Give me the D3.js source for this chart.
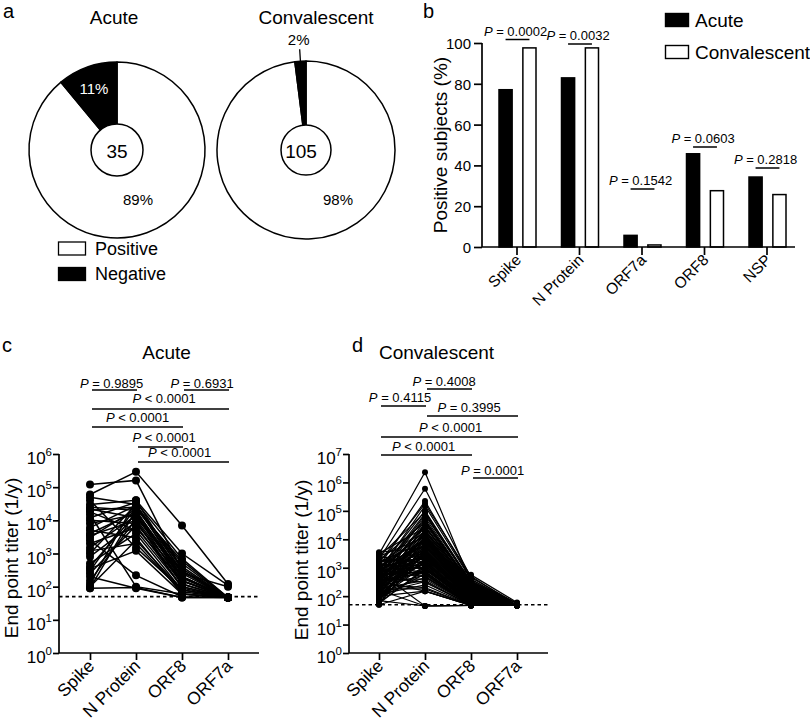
<!DOCTYPE html>
<html><head><meta charset="utf-8">
<script src="https://cdn.jsdelivr.net/npm/d3@7"></script>
<style>
body{margin:0;background:#fff}
svg{display:block;font-family:"Liberation Sans",Arial,Helvetica,sans-serif}
text{white-space:pre}
</style></head><body>
<svg id="chart" width="810" height="723"></svg>
<script>
// ================= DATA =================
// Panel a
const pieGroups = ["Acute", "Convalescent"];
const pieN = [35, 105];
const piePositive = [89, 98];
const pieNegative = [11, 2];
const pieLegend = ["Positive", "Negative"];

// Panel b
const barCategories = ["Spike", "N Protein", "ORF7a", "ORF8", "NSP"];
const barSeries = ["Acute", "Convalescent"];
const barAcute = [77.1, 82.9, 5.7, 45.7, 34.3];
const barConv = [97.6, 97.6, 1.0, 27.6, 25.7];
const barPValues = ["= 0.0002", "= 0.0032", "= 0.1542", "= 0.0603", "= 0.2818"];
const barYTicks = [0, 20, 40, 60, 80, 100];

// Panels c, d
const titerCategories = ["Spike", "N Protein", "ORF8", "ORF7a"];
const detectionLimit = 50;

const acuteSpike = [120000,60000,50000,40000,30000,25000,22000,20000,18000,15000,12000,10000,8000,6000,5000,4000,3500,3000,2500,2000,1500,1200,1000,800,500,400,350,300,250,200,150,120,100,90,90];
const acuteNP = [160000,290000,30000,1500,40000,20000,12000,25000,5000,100,35000,8000,15000,28000,3000,18000,10000,22000,220,6000,14000,2000,30000,9000,4000,16000,1200,25000,7000,90,11000,40000,2500,95,20000];
const acuteORF8 = [300,7000,200,80,1000,150,300,500,100,60,700,200,120,400,60,250,90,600,50,150,200,70,350,120,80,180,60,300,100,47,150,250,80,47,200];
const acuteORF7a = [47,120,47,47,110,47,47,47,47,47,47,47,47,47,47,47,47,47,47,47,47,47,47,47,47,47,47,47,47,47,47,100,47,47,47];

const convSpike = [
 3500,3000,2800,2500,2200,2000,1900,1800,1700,1600,1500,1400,1300,1250,1200,
 1150,1100,1050,1000,950,900,880,850,820,800,780,750,720,700,680,
 650,630,600,580,560,540,520,500,480,460,450,440,420,400,390,
 380,370,360,350,340,330,320,310,300,290,280,270,260,250,240,
 230,220,210,200,195,190,180,170,165,160,150,145,140,130,125,
 120,115,110,105,100,95,90,85,80,75,70,65,60,55,50,
 50,1600,900,450,260,130,70,2400,1100,600,350,180,95,55,3200];
const convNP = [
 5000,2300000,800,12000,3000,600000,1500,40000,2000,8000,180000,900,25000,4000,1200,
 220000,6000,700,15000,2500,100000,1000,50000,3500,600,9000,150000,1800,20000,45,
 80000,2200,500,30000,7000,1100,70000,4500,300,10000,1600,60000,2800,400,18000,
 1300,35000,650,5500,150,14000,2400,900,45000,3200,750,11000,200,6500,1900,
 28000,550,4200,1400,16000,350,7500,2600,45,13000,1000,3800,22000,450,5200,
 1700,250,9500,3000,150,40000,1200,600,6000,2100,45,12000,850,3600,150,
 19000,2700,480,8500,1500,320,4800,90000,2300,700,11000,180,3300,950,26000];
const convORF8 = [
 560,300,120,200,80,450,60,250,100,150,500,70,350,90,50,
 400,110,55,180,75,300,60,220,95,50,140,380,65,260,47,
 280,85,50,190,130,60,320,105,50,160,70,240,90,50,210,
 65,230,50,120,47,170,80,55,270,100,50,150,47,125,75,
 200,50,110,60,180,47,135,85,47,160,55,100,210,50,115,
 70,47,145,90,47,260,60,50,125,80,47,155,55,95,47,
 190,85,50,140,65,47,110,330,80,50,165,47,100,55,230];
const convORF7a = [
 60,47,47,47,47,55,47,47,47,47,47,47,47,47,47,
 47,47,47,47,47,47,47,47,47,47,47,55,47,47,47,
 47,47,47,47,47,47,47,47,47,47,47,47,47,47,47,
 47,47,47,47,47,47,47,47,47,47,47,47,47,47,47,
 47,47,47,47,47,47,47,47,47,47,47,47,47,47,47,
 47,47,47,47,47,47,47,47,47,47,47,47,47,47,47,
 47,47,47,47,47,47,47,55,47,47,47,47,47,47,47];

// statistical comparisons (from, to, label)
const acuteCompFrom = ["Spike","ORF8","Spike","Spike","N Protein","N Protein"];
const acuteCompTo   = ["N Protein","ORF7a","ORF7a","ORF8","ORF8","ORF7a"];
const acuteCompP    = ["= 0.9895","= 0.6931","< 0.0001","< 0.0001","< 0.0001","< 0.0001"];
const convCompFrom = ["N Protein","Spike","N Protein","Spike","Spike","ORF8"];
const convCompTo   = ["ORF8","N Protein","ORF7a","ORF7a","ORF8","ORF7a"];
const convCompP    = ["= 0.4008","= 0.4115","= 0.3995","< 0.0001","< 0.0001","= 0.0001"];

// ================= LAYOUT =================
const svg = d3.select("#chart");
const BLACK = "#000";

function pText(sel, label) {
  sel.append("tspan").attr("font-style", "italic").text("P");
  sel.append("tspan").text(" " + label);
}

// panel letters
[["a", 3, 18], ["b", 423, 18], ["c", 2, 352], ["d", 352, 352]].forEach(([t, x, y]) =>
  svg.append("text").attr("x", x).attr("y", y).attr("font-size", 20).text(t));

// ---------- Panel a ----------
const pieLayout = [
  {cx: 117, cy: 150, r: 88, rIn: 26, titleX: 114, nX: 117,
   negLbl: {dx: -23, dy: -56, fill: "#fff"}, posLbl: {dx: 21, dy: 55}},
  {cx: 306, cy: 150, r: 89, rIn: 25, titleX: 316, nX: 301,
   negLbl: null, posLbl: {dx: 32, dy: 55}}
];
const pie = d3.pie().sort(null).value(d => d.v);
pieGroups.forEach((grp, i) => {
  const L = pieLayout[i];
  svg.append("text").attr("x", L.titleX).attr("y", 24).attr("text-anchor", "middle")
    .attr("font-size", 19).text(grp);
  const g = svg.append("g").attr("transform", `translate(${L.cx},${L.cy})`);
  const arcs = pie([{k: "Positive", v: piePositive[i]}, {k: "Negative", v: pieNegative[i]}]);
  const arc = d3.arc().innerRadius(0).outerRadius(L.r);
  g.selectAll("path").data(arcs).join("path").attr("d", arc)
    .attr("fill", d => d.data.k === "Positive" ? "#fff" : BLACK)
    .attr("stroke", BLACK).attr("stroke-width", 1.5).attr("stroke-linejoin", "round");
  g.append("circle").attr("r", L.rIn).attr("fill", "#fff").attr("stroke", BLACK).attr("stroke-width", 1.5);
  g.append("text").attr("x", L.nX - L.cx).attr("y", 8).attr("text-anchor", "middle")
    .attr("font-size", 19).text(pieN[i]);
  g.append("text").attr("x", L.posLbl.dx).attr("y", L.posLbl.dy).attr("text-anchor", "middle")
    .attr("font-size", 15).text(piePositive[i] + "%");
  if (L.negLbl) {
    g.append("text").attr("x", L.negLbl.dx).attr("y", L.negLbl.dy).attr("text-anchor", "middle")
      .attr("font-size", 15).attr("fill", L.negLbl.fill).text(pieNegative[i] + "%");
  } else {
    const a = (arcs[1].startAngle + arcs[1].endAngle) / 2;
    const p1 = [Math.sin(a) * (L.r - 2), -Math.cos(a) * (L.r - 2)];
    const p2 = [Math.sin(a) * (L.r + 12), -Math.cos(a) * (L.r + 12)];
    g.append("line").attr("x1", p1[0]).attr("y1", p1[1]).attr("x2", p2[0]).attr("y2", p2[1])
      .attr("stroke", BLACK).attr("stroke-width", 1.3);
    g.append("text").attr("x", p2[0] - 1).attr("y", p2[1] - 4).attr("text-anchor", "middle")
      .attr("font-size", 15).text(pieNegative[i] + "%");
  }
});
pieLegend.forEach((lab, i) => {
  svg.append("rect").attr("x", 58.5).attr("y", 242 + i * 25.5).attr("width", 27).attr("height", 13)
    .attr("fill", i === 0 ? "#fff" : BLACK).attr("stroke", BLACK).attr("stroke-width", 1.3);
  svg.append("text").attr("x", 95).attr("y", 255 + i * 24.5).attr("font-size", 18).text(lab);
});

// ---------- Panel b ----------
{
  const axX = 482, axEnd = 795, yB0 = 247, yB100 = 43;
  const x0 = d3.scaleBand().domain(barCategories).range([485.75, 798.25]);
  const x1 = d3.scaleBand().domain(barSeries).range([13.25, 50.25]).paddingInner(0.45);
  const y = d3.scaleLinear().domain([0, 100]).range([yB0, yB100]);
  const g = svg.append("g");
  const vals = barCategories.map((c, i) => ({c, a: barAcute[i], v: barConv[i]}));
  const grp = g.selectAll("g.cat").data(vals).join("g").attr("transform", d => `translate(${x0(d.c)},0)`);
  grp.selectAll("rect").data(d => [{s: "Acute", v: d.a}, {s: "Convalescent", v: d.v}]).join("rect")
    .attr("x", d => x1(d.s)).attr("width", x1.bandwidth())
    .attr("y", d => y(d.v)).attr("height", d => y(0) - y(d.v))
    .attr("fill", d => d.s === "Acute" ? BLACK : "#fff").attr("stroke", BLACK).attr("stroke-width", 1.5);
  // axes
  const yAxis = d3.axisLeft(y).tickValues(barYTicks).tickSize(8).tickSizeOuter(0);
  const ya = g.append("g").attr("transform", `translate(${axX},0)`).call(yAxis);
  ya.select(".domain").remove();
  ya.selectAll("line").attr("stroke-width", 1.7);
  ya.selectAll("text").attr("font-size", 15).attr("font-family", null).attr("x", -11).attr("dy", "0.36em");
  g.append("line").attr("x1", axX).attr("x2", axX).attr("y1", yB0).attr("y2", yB100).attr("stroke", BLACK).attr("stroke-width", 1.7);
  const xAxis = d3.axisBottom(x0).tickSize(8).tickSizeOuter(0);
  const xa = g.append("g").attr("transform", `translate(0,${yB0})`).call(xAxis);
  xa.select(".domain").remove();
  xa.selectAll("line").attr("stroke-width", 1.7);
  xa.selectAll("text").attr("font-size", 15.5).attr("font-family", null).attr("text-anchor", "end")
    .attr("y", 0).attr("dy", 0).attr("transform", "translate(5,14) rotate(-45)");
  g.append("line").attr("x1", axX).attr("x2", axEnd).attr("y1", yB0).attr("y2", yB0).attr("stroke", BLACK).attr("stroke-width", 1.7);
  g.append("text").attr("transform", `translate(447,${(yB0 + yB100) / 2}) rotate(-90)`)
    .attr("text-anchor", "middle").attr("font-size", 19).text("Positive subjects (%)");
  // p brackets
  const brY = [39.5, 44, 189, 147, 168];
  barCategories.forEach((c, i) => {
    const xa1 = x0(c) + x1("Acute") + x1.bandwidth() / 2;
    const xa2 = x0(c) + x1("Convalescent") + x1.bandwidth() / 2;
    g.append("line").attr("x1", xa1).attr("x2", xa2).attr("y1", brY[i]).attr("y2", brY[i]).attr("stroke", BLACK).attr("stroke-width", 1.5);
    g.append("text").attr("x", (xa1 + xa2) / 2 - 2).attr("y", brY[i] - 4).attr("text-anchor", "middle")
      .attr("font-size", 13).call(pText, barPValues[i]);
  });
  // legend
  barSeries.forEach((s, i) => {
    g.append("rect").attr("x", 665.5).attr("y", 13.5 + i * 32).attr("width", 23).attr("height", 13)
      .attr("fill", i === 0 ? BLACK : "#fff").attr("stroke", BLACK).attr("stroke-width", 1.4);
    g.append("text").attr("x", 695).attr("y", 27 + i * 32).attr("font-size", 19).text(s);
  });
}

// ---------- Panels c, d ----------
function titerPanel(cfg) {
  const g = svg.append("g");
  const x = d3.scalePoint().domain(titerCategories).range(cfg.colRange);
  const y = d3.scaleLog().domain([1, cfg.maxVal]).range([cfg.yBot, cfg.yTop]);
  g.append("text").attr("x", cfg.titleX).attr("y", 359).attr("text-anchor", "middle").attr("font-size", 19).text(cfg.title);
  g.append("line").attr("x1", cfg.axisX).attr("x2", cfg.xEnd).attr("y1", y(detectionLimit)).attr("y2", y(detectionLimit))
    .attr("stroke", BLACK).attr("stroke-width", 1.6).attr("stroke-dasharray", "3.5,3");
  const n = cfg.series[0].length;
  const subjects = d3.range(n).map(i => cfg.series.map((s, j) => ({cat: titerCategories[j], v: s[i]})));
  const line = d3.line().x(d => x(d.cat)).y(d => y(d.v));
  g.append("g").selectAll("path").data(subjects).join("path").attr("d", line)
    .attr("fill", "none").attr("stroke", BLACK).attr("stroke-width", cfg.lw);
  g.append("g").selectAll("circle").data(subjects.flat()).join("circle")
    .attr("cx", d => x(d.cat)).attr("cy", d => y(d.v)).attr("r", cfg.r).attr("fill", BLACK);
  // axes
  const tv = d3.range(0, cfg.maxExp + 1).map(e => Math.pow(10, e));
  const ya = g.append("g").attr("transform", `translate(${cfg.axisX},0)`)
    .call(d3.axisLeft(y).tickValues(tv).tickSize(6).tickSizeOuter(0).tickFormat(""));
  ya.select(".domain").remove();
  ya.selectAll("line").attr("stroke-width", 1.7);
  g.selectAll(null).data(tv).join("text").attr("x", cfg.axisX - 7).attr("y", d => y(d) + 10)
    .attr("text-anchor", "end").attr("font-size", 17)
    .each(function (d) {
      const t = d3.select(this);
      t.append("tspan").text("10");
      t.append("tspan").attr("font-size", 11.5).attr("dy", -8).text(Math.round(Math.log10(d)));
    });
  g.append("line").attr("x1", cfg.axisX).attr("x2", cfg.axisX).attr("y1", cfg.yBot).attr("y2", cfg.yTop).attr("stroke", BLACK).attr("stroke-width", 1.7);
  const xa = g.append("g").attr("transform", `translate(0,${cfg.yBot})`).call(d3.axisBottom(x).tickSize(7).tickSizeOuter(0));
  xa.select(".domain").remove();
  xa.selectAll("line").attr("stroke-width", 1.7);
  xa.selectAll("text").attr("font-size", 17.5).attr("font-family", null).attr("text-anchor", "end")
    .attr("y", 0).attr("dy", 0).attr("transform", "translate(5,14) rotate(-45)");
  g.append("line").attr("x1", cfg.axisX).attr("x2", cfg.xEnd).attr("y1", cfg.yBot).attr("y2", cfg.yBot).attr("stroke", BLACK).attr("stroke-width", 1.7);
  g.append("text").attr("transform", `translate(${cfg.labelX},${cfg.labelY}) rotate(-90)`)
    .attr("text-anchor", "middle").attr("font-size", 19).text("End point titer (1/y)");
  // brackets
  cfg.compFrom.forEach((f, i) => {
    const b = cfg.brLayout[i];
    g.append("line").attr("x1", x(f) + 2).attr("x2", x(cfg.compTo[i]) + 1).attr("y1", b[0]).attr("y2", b[0])
      .attr("stroke", BLACK).attr("stroke-width", 1.5);
    g.append("text").attr("x", b[1]).attr("y", b[2]).attr("text-anchor", "middle").attr("font-size", 13)
      .call(pText, cfg.compP[i]);
  });
}

titerPanel({
  title: "Acute", titleX: 166.5, axisX: 59, xEnd: 259, yTop: 454, yBot: 653,
  colRange: [90, 228], maxVal: 1e6, maxExp: 6, r: 4, lw: 1.5,
  labelX: 17.5, labelY: 558,
  series: [acuteSpike, acuteNP, acuteORF8, acuteORF7a],
  compFrom: acuteCompFrom, compTo: acuteCompTo, compP: acuteCompP,
  brLayout: [[390, 111.5, 388], [390, 202, 388], [409, 164, 403], [427, 137.5, 422], [447, 164, 442], [462, 179.5, 457]]
});
titerPanel({
  title: "Convalescent", titleX: 436.5, axisX: 349, xEnd: 548, yTop: 454, yBot: 653,
  colRange: [379, 517], maxVal: 1e7, maxExp: 7, r: 3, lw: 1.2,
  labelX: 308, labelY: 560,
  series: [convSpike, convNP, convORF8, convORF7a],
  compFrom: convCompFrom, compTo: convCompTo, compP: convCompP,
  brLayout: [[389, 444, 386], [406, 400, 402], [416, 469, 412], [437, 450.5, 432], [455, 423.5, 451], [478, 492.5, 475]]
});
</script>
</body></html>
